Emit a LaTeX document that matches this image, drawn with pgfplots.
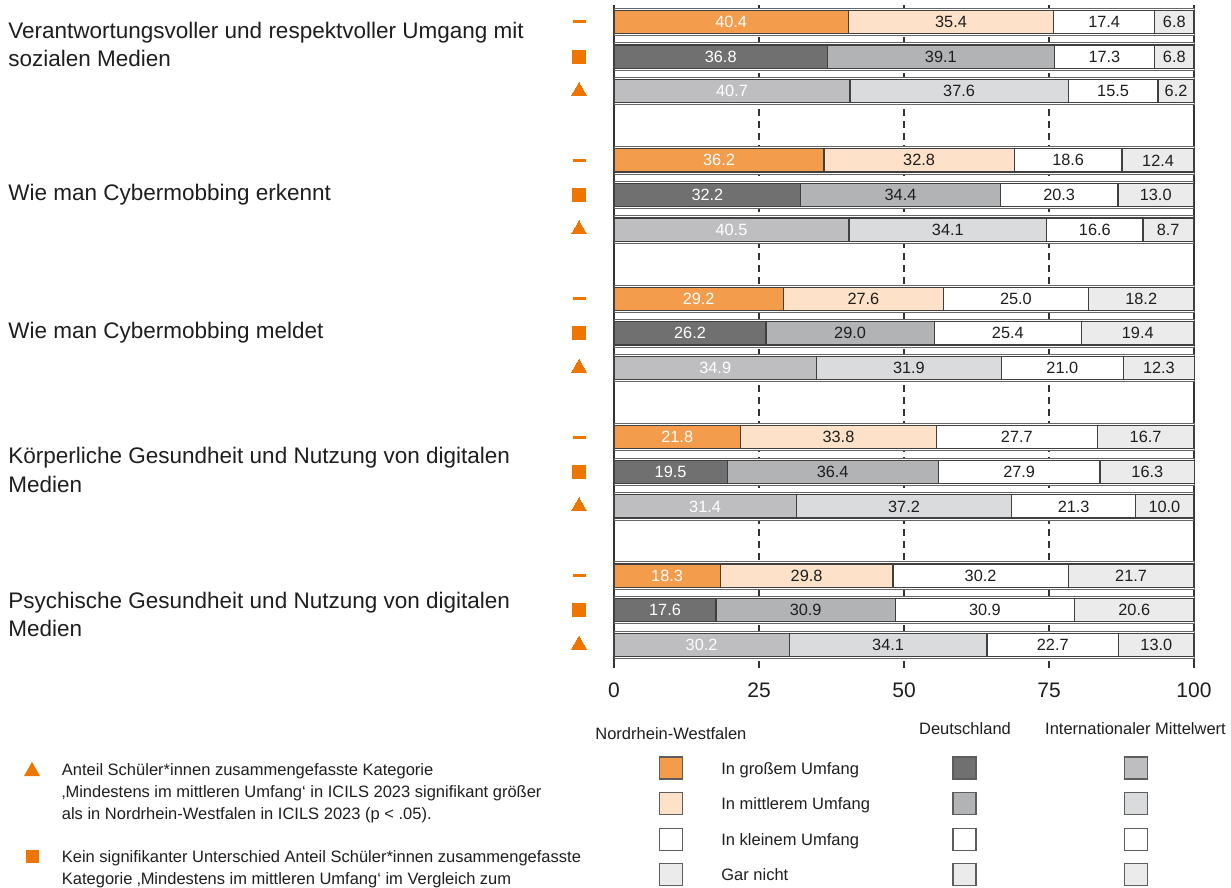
\documentclass[border=0pt]{standalone}
\usepackage{fontspec}
\setmainfont{Liberation Sans}
\usepackage{pgfplots}
\usepackage{pgfplotstable}
\pgfplotsset{compat=1.18}

\definecolor{nrwA}{HTML}{F39C4C}
\definecolor{nrwB}{HTML}{FDE1C8}
\definecolor{deA}{HTML}{707070}
\definecolor{deB}{HTML}{B2B3B4}
\definecolor{intA}{HTML}{BEBEC0}
\definecolor{intB}{HTML}{DADBDC}
\definecolor{cD}{HTML}{EBEBEB}
\definecolor{bordc}{HTML}{404040}
\definecolor{axc}{HTML}{333333}
\definecolor{mk}{HTML}{EE7600}
\definecolor{txt}{HTML}{1E1E1E}

% y = minus row position (three rows per item, one empty row between items)
\pgfplotstableread{
y a b c d
0 40.4 35.4 17.4 6.8
-4 36.2 32.8 18.6 12.4
-8 29.2 27.6 25.0 18.2
-12 21.8 33.8 27.7 16.7
-16 18.3 29.8 30.2 21.7
}\tabnrw
\pgfplotstableread{
y a b c d
-1 36.8 39.1 17.3 6.8
-5 32.2 34.4 20.3 13.0
-9 26.2 29.0 25.4 19.4
-13 19.5 36.4 27.9 16.3
-17 17.6 30.9 30.9 20.6
}\tabde
\pgfplotstableread{
y a b c d
-2 40.7 37.6 15.5 6.2
-6 40.5 34.1 16.6 8.7
-10 34.9 31.9 21.0 12.3
-14 31.4 37.2 21.3 10.0
-18 30.2 34.1 22.7 13.0
}\tabint

\newcommand\addcums[1]{%
  \pgfplotstablecreatecol[expr={\thisrow{a}+\thisrow{b}}]{ab}{#1}%
  \pgfplotstablecreatecol[expr={\thisrow{ab}+\thisrow{c}}]{abc}{#1}%
  \pgfplotstablecreatecol[expr={\thisrow{abc}+\thisrow{d}}]{abcd}{#1}%
  \pgfplotstablecreatecol[expr={\thisrow{a}/2}]{ma}{#1}%
  \pgfplotstablecreatecol[expr={\thisrow{a}+\thisrow{b}/2}]{mb}{#1}%
  \pgfplotstablecreatecol[expr={\thisrow{ab}+\thisrow{c}/2}]{mc}{#1}%
  \pgfplotstablecreatecol[expr={\thisrow{abc}+\thisrow{d}/2}]{md}{#1}%
}
\addcums\tabnrw
\addcums\tabde
\addcums\tabint

\pgfplotsset{
  barsty/.style={xbar, bar shift=0pt, bar width=0.673, draw=bordc, line width=0.6pt},
  lblsty/.style={draw=none, mark=none, point meta=explicit,
    nodes near coords={\pgfmathprintnumber[fixed,fixed zerofill,precision=1]{\pgfplotspointmeta}},
    every node near coord/.append style={anchor=center, inner sep=0pt,
      font=\fontsize{8.15}{9}\selectfont, text=#1}},
  lblsty/.default=txt,
}

\newcommand\rowbars[3]{%
  \addplot[barsty, fill=white, draw=bordc!80, line width=0.5pt, bar width=0.79] table[x=abcd,y=y]{#1};
  \addplot[barsty, fill=cD] table[x=abcd,y=y]{#1};
  \addplot[barsty, fill=white] table[x=abc,y=y]{#1};
  \addplot[barsty, fill=#3] table[x=ab,y=y]{#1};
  \addplot[barsty, fill=#2] table[x=a,y=y]{#1};
  \addplot[lblsty=white] table[x=ma,y=y,meta=a]{#1};
  \addplot[lblsty] table[x=mb,y=y,meta=b]{#1};
  \addplot[lblsty] table[x=mc,y=y,meta=c]{#1};
  \addplot[lblsty] table[x=md,y=y,meta=d]{#1};
}

\newcommand\fL{\fontsize{11.25}{13.5}\selectfont}
\newcommand\fS{\fontsize{8.25}{10}\selectfont}

\begin{document}
\begin{tikzpicture}
\begin{scope}[x=0.5pt,y=-0.5pt]
  \path[use as bounding box] (0,0) rectangle (1231,887);
\end{scope}

\begin{axis}[
  at={(307pt,-334pt)}, anchor=south west,
  scale only axis, width=290pt, height=331.5pt,
  xmin=0, xmax=100, ymin=-18.67, ymax=0.49,
  clip=false,
  axis line style={draw=none},
  xtick={0,25,50,75,100}, ytick=\empty,
  major tick length=0pt,
  xmajorgrids, grid style={draw=axc, line width=0.6pt, dash pattern=on 3.5pt off 2.5pt},
  xticklabel style={font=\fontsize{10.5}{12}\selectfont, text=txt, anchor=center, yshift=-11pt},
  /pgf/number format/assume math mode=true,
]
  \draw[axc, line width=0.75pt] (rel axis cs:0,0) -- (rel axis cs:0,1);
  \draw[axc, line width=0.75pt] (rel axis cs:1,0) -- (rel axis cs:1,1);

  \rowbars{\tabnrw}{nrwA}{nrwB}
  \rowbars{\tabde}{deA}{deB}
  \rowbars{\tabint}{intA}{intB}

  % significance markers left of the rows
  \addplot[only marks, mark=-, mark size=3.25pt, mark options={draw=mk, line width=1.5pt}]
    coordinates {(-6.03,0) (-6.03,-4) (-6.03,-8) (-6.03,-12) (-6.03,-16)};
  \addplot[only marks, mark=square*, mark size=3.25pt, mark options={draw=mk, fill=mk, line width=0pt}]
    coordinates {(-6.03,-1) (-6.03,-5) (-6.03,-9) (-6.03,-13) (-6.03,-17)};
  \addplot[only marks, mark=triangle*, mark size=4.33pt, mark options={draw=mk, fill=mk, line width=0pt}]
    coordinates {(-6.03,-2) (-6.03,-6) (-6.03,-10) (-6.03,-14) (-6.03,-18)};
\end{axis}

\begin{scope}[x=0.5pt,y=-0.5pt, every node/.style={inner sep=0pt, text=txt}]
  % item labels
  \node[anchor=base west, font=\fL] at (8,38.5) {Verantwortungsvoller und respektvoller Umgang mit};
  \node[anchor=base west, font=\fL] at (8,66.5) {sozialen Medien};
  \node[anchor=base west, font=\fL] at (8,201) {Wie man Cybermobbing erkennt};
  \node[anchor=base west, font=\fL] at (8,338.5) {Wie man Cybermobbing meldet};
  \node[anchor=base west, font=\fL] at (8,463.5) {Körperliche Gesundheit und Nutzung von digitalen};
  \node[anchor=base west, font=\fL] at (8,492.5) {Medien};
  \node[anchor=base west, font=\fL] at (8,608.5) {Psychische Gesundheit und Nutzung von digitalen};
  \node[anchor=base west, font=\fL] at (8,636.5) {Medien};

  % legend
  \node[anchor=west, font=\fS] at (595,733.5) {Nordrhein-Westfalen};
  \node[anchor=center, font=\fS] at (965,729) {Deutschland};
  \node[anchor=center, font=\fS] at (1135.5,729) {Internationaler Mittelwert};
  \def\lgrow#1#2#3#4#5{%
    \draw[fill=#2, draw=bordc!85, line width=0.65pt] (659.5,#1-11) rectangle (682.5,#1+11);
    \draw[fill=#3, draw=bordc!85, line width=0.65pt] (953,#1-11) rectangle (976,#1+11);
    \draw[fill=#4, draw=bordc!85, line width=0.65pt] (1124.5,#1-11) rectangle (1147.5,#1+11);
    \node[anchor=base west, font=\fS] at (721,#1+6) {#5};}
  \lgrow{768}{nrwA}{deA}{intA}{In großem Umfang}
  \lgrow{803.6}{nrwB}{deB}{intB}{In mittlerem Umfang}
  \lgrow{839.2}{white}{white}{white}{In kleinem Umfang}
  \lgrow{874.8}{cD}{cD}{cD}{Gar nicht}

  % notes
  \fill[mk] (24,776) -- (40,776) -- (32,762) -- cycle;
  \node[anchor=base west, font=\fS] at (61.5,775.7) {Anteil Schüler*innen zusammengefasste Kategorie};
  \node[anchor=base west, font=\fS] at (61.5,797.3) {‚Mindestens im mittleren Umfang‘ in ICILS 2023 signifikant größer};
  \node[anchor=base west, font=\fS] at (61.5,819) {als in Nordrhein-Westfalen in ICILS 2023 (p < .05).};
  \fill[mk] (25.5,849.5) rectangle (38.5,862.5);
  \node[anchor=base west, font=\fS] at (61.5,862.5) {Kein signifikanter Unterschied Anteil Schüler*innen zusammengefasste};
  \node[anchor=base west, font=\fS] at (61.5,884.2) {Kategorie ‚Mindestens im mittleren Umfang‘ im Vergleich zum};
\end{scope}
\end{tikzpicture}
\end{document}
